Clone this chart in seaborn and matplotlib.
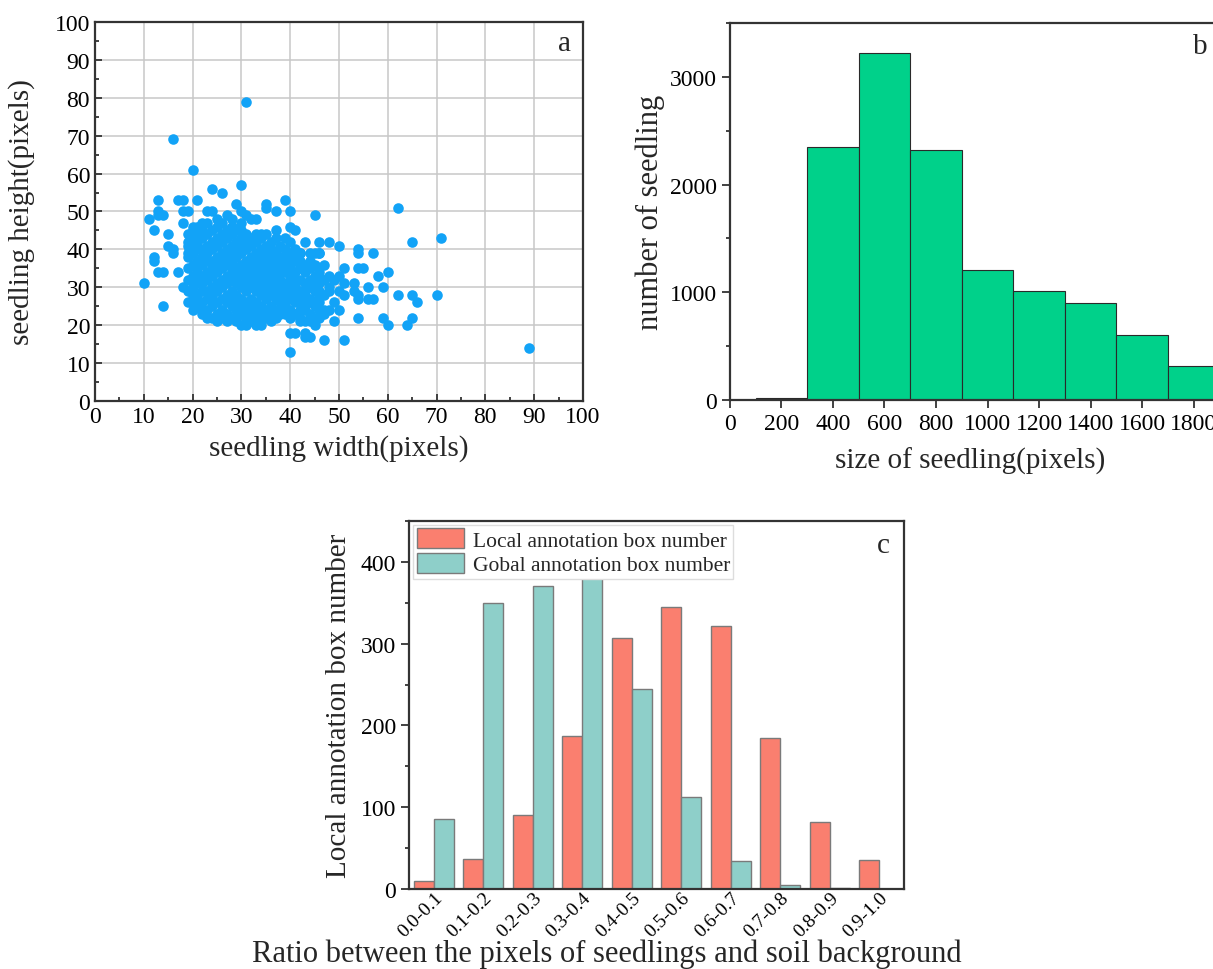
import matplotlib
matplotlib.use("Agg")
import matplotlib.pyplot as plt
from matplotlib.ticker import MultipleLocator
import seaborn as sns
import pandas as pd

# --- panel a: seedling width / height (pixels) ---
sparse_width = [10, 11, 12, 12, 12, 13, 13, 13, 13, 14, 14, 14, 15, 15, 16, 16, 16,
                17, 17, 18, 18, 18, 18, 19, 19, 19, 20, 20, 20, 20, 20, 21, 21, 22, 22,
                23, 23, 24, 24, 24, 25, 25, 26, 26, 27, 28, 29, 29, 30, 30, 30, 31, 31, 31,
                32, 33, 34, 34, 35, 35, 36, 37, 37, 38, 39, 39, 40, 40, 40, 40,
                41, 41, 42, 42, 43, 43, 43, 44, 44, 45, 45, 45, 46, 46, 46, 47, 47, 47, 47,
                48, 48, 48, 48, 49, 50, 50, 50, 51, 51, 51, 51, 53, 53, 54, 54, 54, 54, 54, 54, 55, 56, 56,
                57, 57, 58, 59, 59, 60, 60, 62, 62, 64, 65, 65, 65, 66, 70, 71, 89,
                41, 41, 42, 42, 43, 43, 43, 44, 44, 44, 45, 45, 45, 46, 46, 46, 47, 47, 48, 49, 49, 50, 42, 44, 46]
sparse_height = [31, 48, 45, 38, 37, 53, 50, 49, 34, 49, 34, 25, 44, 41, 69, 40, 39,
                 53, 34, 53, 50, 47, 30, 50, 41, 39, 61, 46, 45, 28, 26, 53, 27, 47, 24,
                 50, 22, 56, 50, 27, 48, 21, 55, 24, 49, 46, 52, 22, 57, 50, 45, 79, 49, 20,
                 48, 48, 44, 20, 52, 51, 21, 50, 45, 23, 53, 43, 50, 46, 18, 13,
                 45, 18, 39, 21, 42, 18, 17, 17, 21, 49, 39, 20, 42, 39, 29, 36, 32, 24, 16,
                 42, 33, 29, 24, 21, 41, 33, 24, 35, 31, 28, 16, 31, 29, 40, 39, 35, 28, 27, 22, 35, 30, 27,
                 39, 27, 33, 30, 22, 34, 20, 51, 28, 20, 42, 28, 22, 26, 28, 43, 14,
                 40, 38, 36, 26, 35, 29, 25, 37, 31, 27, 33, 30, 25, 34, 26, 22, 28, 23, 30, 32, 26, 29, 39, 39, 39]

# dense core of the cloud, one list of heights per width column
core_columns = [19, 20, 21, 22, 23, 24, 25, 26, 27, 28, 29, 30, 31, 32,
                33, 34, 35, 36, 37, 38, 39, 40, 41, 42, 43, 44, 45, 46]
core_heights = [
    [26, 29, 32, 35, 38, 42, 44],
    [24, 27, 30, 33, 36, 39, 41, 43],
    [25, 28, 31, 34, 37, 40, 42, 44, 46],
    [23, 26, 29, 31, 33, 36, 38, 40, 43, 45],
    [24, 27, 29, 32, 34, 37, 39, 41, 44, 47],
    [22, 25, 28, 30, 33, 35, 37, 40, 42, 45],
    [23, 26, 29, 31, 34, 36, 38, 41, 43, 46],
    [22, 24, 27, 30, 32, 35, 37, 39, 42, 44, 47],
    [21, 23, 26, 28, 31, 33, 36, 38, 40, 43, 45],
    [22, 25, 27, 29, 32, 34, 37, 39, 41, 44, 46, 48],
    [21, 24, 26, 28, 31, 33, 35, 38, 40, 42, 45],
    [20, 23, 25, 27, 30, 32, 34, 36, 39, 41, 43, 47],
    [22, 24, 26, 29, 31, 33, 35, 37, 40, 42, 44],
    [21, 23, 25, 27, 30, 32, 34, 36, 38, 41, 43],
    [20, 22, 24, 26, 29, 31, 33, 35, 37, 39, 42, 44],
    [21, 23, 25, 28, 30, 32, 34, 36, 38, 40, 43],
    [22, 24, 27, 29, 31, 33, 35, 37, 39, 41, 44],
    [23, 25, 28, 30, 32, 34, 36, 38, 40, 42],
    [22, 24, 27, 29, 31, 33, 35, 37, 39, 43],
    [24, 26, 28, 30, 32, 34, 36, 38, 41],
    [23, 25, 27, 29, 31, 34, 36, 38, 40],
    [22, 24, 27, 29, 31, 33, 35, 37, 39, 42],
    [23, 26, 28, 30, 32, 34, 37, 39],
    [22, 24, 27, 29, 32, 35, 37],
    [21, 24, 26, 28, 31, 34, 36],
    [23, 26, 30, 32, 35],
    [22, 26, 29, 31, 36],
    [24, 28, 31, 33],
]

# --- panel b: size histogram ---
bin_edges = [100, 300, 500, 700, 900, 1100, 1300, 1500, 1700, 1900]
bin_counts = [15, 2350, 3220, 2320, 1210, 1010, 905, 600, 320]
size_ticks = [0, 200, 400, 600, 800, 1000, 1200, 1400, 1600, 1800]

# --- panel c: ratio of seedling pixels to soil background ---
ratio_bins = ["0.0-0.1", "0.1-0.2", "0.2-0.3", "0.3-0.4", "0.4-0.5",
              "0.5-0.6", "0.6-0.7", "0.7-0.8", "0.8-0.9", "0.9-1.0"]
local_boxes = [10, 37, 90, 187, 307, 345, 322, 185, 82, 35]
global_boxes = [85, 350, 371, 380, 245, 112, 34, 5, 1, 0]

sns.set_style("ticks")
plt.rcParams['font.family'] = ['Liberation Serif', 'DejaVu Serif']
plt.rcParams['axes.edgecolor'] = '#333333'
plt.rcParams['axes.linewidth'] = 1.6
plt.rcParams['xtick.color'] = '#333333'
plt.rcParams['ytick.color'] = '#333333'
plt.rcParams['xtick.labelcolor'] = 'black'
plt.rcParams['ytick.labelcolor'] = 'black'

fig = plt.figure(figsize=(12.13, 9.70), dpi=100)

# panel a
w_all, h_all = list(sparse_width), list(sparse_height)
for col, hs in zip(core_columns, core_heights):
    w_all += [col] * len(hs)
    h_all += hs
df_a = pd.DataFrame({"width": w_all, "height": h_all})

ax_a = fig.add_axes([0.0783, 0.5856, 0.4023, 0.3907])
sns.scatterplot(data=df_a, x="width", y="height", color="#12A3F7",
                s=58, linewidth=0, alpha=1, ax=ax_a)
ax_a.set_xlim(0, 100)
ax_a.set_ylim(0, 100)
ax_a.xaxis.set_major_locator(MultipleLocator(10))
ax_a.yaxis.set_major_locator(MultipleLocator(10))
ax_a.xaxis.set_minor_locator(MultipleLocator(5))
ax_a.yaxis.set_minor_locator(MultipleLocator(5))
ax_a.grid(True, which='major', color='#c8c8c8', linewidth=1.1)
ax_a.set_axisbelow(True)
ax_a.tick_params(which='both', direction='in', width=1.3, labelsize=17)
ax_a.tick_params(which='major', length=5)
ax_a.tick_params(which='minor', length=3)
ax_a.set_xlabel("seedling width(pixels)", fontsize=21, labelpad=5)
ax_a.set_ylabel("seedling height(pixels)", fontsize=21, labelpad=14)
ax_a.text(0.963, 0.945, "a", transform=ax_a.transAxes, fontsize=21,
          ha='center', va='center')

# panel b
centers = [(lo + hi) / 2 for lo, hi in zip(bin_edges[:-1], bin_edges[1:])]
ax_b = fig.add_axes([0.6018, 0.5866, 0.4246, 0.3887])
sns.histplot(x=centers, weights=bin_counts, bins=bin_edges, color="#00D18A",
             alpha=1, edgecolor='#2a2a2a', linewidth=0.8, ax=ax_b)
ax_b.set_xlim(0, 2000)
ax_b.set_ylim(0, 3500)
ax_b.set_xticks(size_ticks)
ax_b.yaxis.set_major_locator(MultipleLocator(1000))
ax_b.yaxis.set_minor_locator(MultipleLocator(500))
ax_b.tick_params(which='both', direction='out', width=1.3, labelsize=17)
ax_b.tick_params(which='major', length=6)
ax_b.tick_params(which='minor', length=3)
ax_b.set_xlabel("size of seedling(pixels)", fontsize=21)
ax_b.xaxis.set_label_coords(0.466, -0.125)
ax_b.set_ylabel("number of seedling", fontsize=22, labelpad=3)
ax_b.text(0.913, 0.94, "b", transform=ax_b.transAxes, fontsize=21,
          ha='center', va='center')

# panel c
df_c = pd.DataFrame({
    "ratio": ratio_bins * 2,
    "count": local_boxes + global_boxes,
    "series": ["Local annotation box number"] * len(ratio_bins)
              + ["Gobal annotation box number"] * len(ratio_bins),
})
ax_c = fig.add_axes([0.3372, 0.0825, 0.4081, 0.3794])
sns.barplot(data=df_c, x="ratio", y="count", hue="series",
            palette=["#FA7F6F", "#8ECFC9"], saturation=1, edgecolor='#7a7a7a',
            linewidth=1, width=0.8, ax=ax_c)
ax_c.set_ylim(0, 450)
ax_c.yaxis.set_major_locator(MultipleLocator(100))
ax_c.yaxis.set_minor_locator(MultipleLocator(50))
ax_c.tick_params(axis='y', which='both', direction='out', width=1.3, labelsize=17)
ax_c.tick_params(axis='y', which='major', length=6)
ax_c.tick_params(axis='y', which='minor', length=3)
ax_c.tick_params(axis='x', length=0, labelsize=14, pad=0)
plt.setp(ax_c.get_xticklabels(), rotation=45, ha='right', rotation_mode='anchor')
ax_c.set_xlabel("Ratio between the pixels of seedlings and soil background", fontsize=22)
ax_c.xaxis.set_label_coords(0.40, -0.135)
ax_c.set_ylabel("Local annotation box number", fontsize=21, labelpad=6)
leg = ax_c.legend(loc='upper left', fontsize=15.5, handlelength=2.2, handleheight=1.05,
                  borderaxespad=0.2, borderpad=0.15, labelspacing=0.1,
                  handletextpad=0.4, fancybox=False, edgecolor='#dddddd', framealpha=1)
ax_c.text(0.958, 0.935, "c", transform=ax_c.transAxes, fontsize=21,
          ha='center', va='center')

fig.savefig("out.png", dpi=100)
